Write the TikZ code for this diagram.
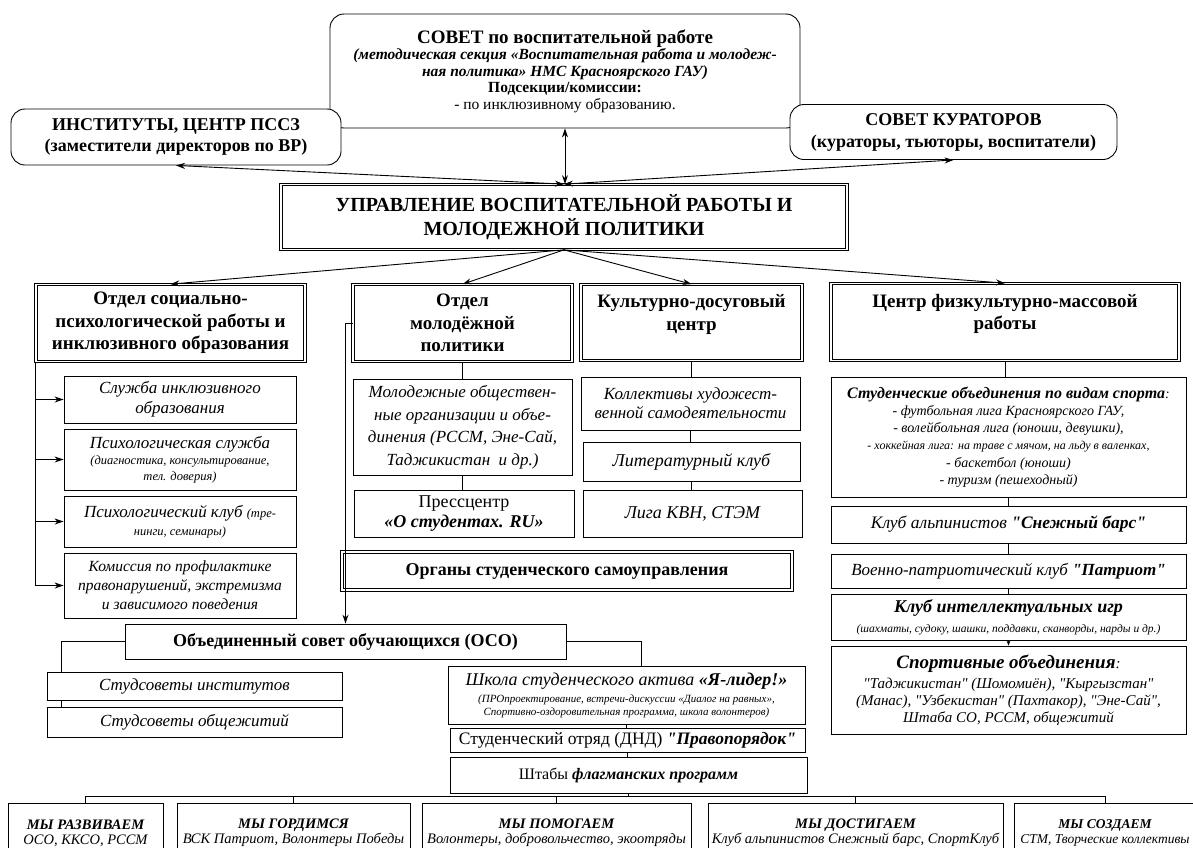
\documentclass[tikz,border=0pt]{standalone}
\usepackage{fontspec}
\setmainfont{Liberation Serif}[Ligatures=TeXOff]
\usetikzlibrary{arrows.meta,calc}
\newcommand{\setfs}[2]{\fontsize{#1}{#2}\selectfont}

\begin{document}
\begin{tikzpicture}[x=1pt, y=-1pt, >={Stealth[length=9pt,width=6pt]}, line width=0.9pt,
  box/.style={draw, fill=white, align=center, inner sep=1pt},
  rbox/.style={box, rounded corners=14pt},
  dbox/.style={box, double, double distance=1.8pt, line width=0.7pt},
  wh/.style 2 args={minimum width=#1pt, minimum height=#2pt}]
\useasboundingbox (0,0) rectangle (1193,847);

% top level
\node[rbox, wh={470}{114}, font={\setfs{15.5}{16.5}}] (sovet) at (565,71)
  {{\setfs{19}{19}\bfseries СОВЕТ по воспитательной работе}\\
   {\bfseries\itshape (методическая секция «Воспитательная работа и молодеж-}\\
   {\bfseries\itshape ная политика» НМС Красноярского ГАУ)}\\
   {\bfseries Подсекции/комиссии:}\\
   - по инклюзивному образованию.};
\node[rbox, wh={330}{56}, font={\setfs{18}{21}\bfseries}] (inst) at (176,137)
  {ИНСТИТУТЫ, ЦЕНТР ПССЗ\\(заместители директоров по ВР)};
\node[rbox, wh={327}{55}, font={\setfs{18}{22}\bfseries}] (kurator) at (953.5,132)
  {СОВЕТ КУРАТОРОВ\\(кураторы, тьюторы, воспитатели)};
\node[dbox, wh={566}{65}, font={\setfs{20}{24}\bfseries}] (upr) at (564,217)
  {УПРАВЛЕНИЕ ВОСПИТАТЕЛЬНОЙ РАБОТЫ И\\МОЛОДЕЖНОЙ ПОЛИТИКИ};

% departments
\node[dbox, wh={269}{77}, font={\setfs{19}{22.5}\bfseries}] (otdsoc) at (170.5,323)
  {Отдел социально-\\психологической работы и\\инклюзивного образования};
\node[dbox, wh={219}{77}, font={\setfs{19}{22.5}\bfseries}] (otdmol) at (462.5,323)
  {Отдел\\молодёжной\\политики};
\node[dbox, wh={221}{76}, font={\setfs{19}{22.5}\bfseries}] (kult) at (691.5,322.5)
  {Культурно-досуговый\\центр\\[-2pt]};
\node[dbox, wh={348}{77}, font={\setfs{19}{22.5}\bfseries}] (centr) at (1005,322)
  {Центр физкультурно-массовой\\работы\\[-2pt]};

% left column
\node[box, wh={232}{47}, font={\setfs{17}{20}\itshape}] (sl1) at (180,399.5)
  {Служба инклюзивного\\образования};
\node[box, wh={232}{61}, font={\setfs{17}{16}\itshape}] (sl2) at (180,459.5)
  {Психологическая служба\\{\setfs{12.5}{14}(диагностика, консультирование,}\\{\setfs{12.5}{14}тел. доверия)}};
\node[box, wh={232}{51}, font={\setfs{17}{18}\itshape}] (sl3) at (180,521.5)
  {Психологический клуб {\setfs{12.5}{14}(тре-}\\{\setfs{12.5}{14}нинги, семинары)}};
\node[box, wh={232}{65}, font={\setfs{15.5}{19}\itshape}] (sl4) at (180,585.5)
  {Комиссия по профилактике\\правонарушений, экстремизма\\и зависимого поведения};

% youth policy column
\node[box, wh={219}{96}, font={\setfs{17}{22.5}\itshape}] (molorg) at (462.5,427)
  {Молодежные обществен-\\ные организации и объе-\\динения (РССМ, Эне-Сай,\\Таджикистан~ и др.)};
\node[box, wh={220}{47}, font={\setfs{18}{20}}] (press) at (464,513.5)
  {Прессцентр\\{\bfseries\itshape «О студентах. RU»}};

% culture column
\node[box, wh={219}{53}, font={\setfs{17}{19}\itshape}] (koll) at (690.5,403.5)
  {Коллективы художест-\\венной самодеятельности};
\node[box, wh={217}{39}, font={\setfs{18}{20}\itshape}] (lit) at (691.5,461.5)
  {Литературный клуб};
\node[box, wh={219}{47}, font={\setfs{18}{20}\itshape}] (kvn) at (692.5,513.5)
  {Лига КВН, СТЭМ};

% sport column
\node[box, wh={355}{120}, font={\setfs{14}{17.2}\itshape}] (stud) at (1008.5,437)
  {{\setfs{16}{17}\bfseries Студенческие объединения по видам спорта}:\\
   - футбольная лига Красноярского ГАУ,\\
   - волейбольная лига (юноши, девушки),\\
   {\setfs{12}{14}- хоккейная лига: на траве с мячом, на льду в валенках,}\\
   - баскетбол (юноши)\\
   - туризм (пешеходный)};
\node[box, wh={355}{37}, font={\setfs{17.5}{20}\itshape}] (alp) at (1008.5,524.5)
  {Клуб альпинистов {\bfseries"Снежный барс"}};
\node[box, wh={355}{34}, font={\setfs{17}{20}\itshape}] (voen) at (1008.5,571)
  {Военно-патриотический клуб {\bfseries"Патриот"}};
\node[box, wh={355}{46}, font={\setfs{18}{20}\itshape}] (intel) at (1008.5,617)
  {{\bfseries Клуб интеллектуальных игр}\\{\setfs{11.5}{13}(шахматы, судоку, шашки, поддавки, сканворды, нарды и др.)}};
\node[box, wh={355}{88}, font={\setfs{15}{17}\itshape}] (sport) at (1008.5,690)
  {{\setfs{19}{20}\bfseries Спортивные объединения}:\\[3pt]
   "Таджикистан" (Шомомиён), "Кыргызстан"\\
   (Манас), "Узбекистан" (Пахтакор), "Эне-Сай",\\
   Штаба СО, РССМ, общежитий};

% student self-government
\node[dbox, wh={450}{38}, font={\setfs{18}{20}\bfseries}] (organy) at (567,571)
  {Органы студенческого самоуправления};
\node[box, wh={441}{35}, font={\setfs{18}{20}\bfseries}] (oso) at (345.5,641.5)
  {Объединенный совет обучающихся (ОСО)};
\node[box, wh={295}{28}, font={\setfs{17}{20}\itshape}] (sovinst) at (194.5,686)
  {Студсоветы институтов};
\node[box, wh={295}{30}, font={\setfs{17}{20}\itshape}] (sovobsh) at (194.5,722)
  {Студсоветы общежитий};
\node[box, wh={357}{58}, font={\setfs{11}{13}\itshape}] (shkola) at (626.5,695)
  {{\setfs{18}{18}Школа студенческого актива {\bfseries«Я-лидер!»}}\\[4pt]
   (ПРОпроектирование, встречи-дискуссии «Диалог на равных»,\\
   Спортивно-оздоровительная программа, школа волонтеров)};
\node[box, wh={355}{24}, font={\setfs{17.5}{18}}] (pravo) at (627.5,740)
  {Студенческий отряд (ДНД) {\bfseries\itshape"Правопорядок"}};
\node[box, wh={357}{36}, font={\setfs{16}{18}}] (shtab) at (628.5,775)
  {Штабы {\bfseries\itshape флагманских программ}};

% flagship programmes
\node[box, wh={155}{60}, font={\setfs{14.5}{15}\itshape}] (my1) at (85.5,833)
  {{\bfseries МЫ РАЗВИВАЕМ}\\ОСО, ККСО, РССМ};
\node[box, wh={233}{60}, font={\setfs{14.5}{15}\itshape}] (my2) at (293.5,833)
  {{\bfseries МЫ ГОРДИМСЯ}\\ВСК Патриот, Волонтеры Победы};
\node[box, wh={269}{60}, font={\setfs{14.5}{15}\itshape}] (my3) at (556.5,833)
  {{\bfseries МЫ ПОМОГАЕМ}\\Волонтеры, добровольчество, экоотряды};
\node[box, wh={295}{60}, font={\setfs{14.5}{15}\itshape}] (my4) at (855.5,833)
  {{\bfseries МЫ ДОСТИГАЕМ}\\Клуб альпинистов Снежный барс, СпортКлуб};
\node[box, wh={182}{60}, font={\setfs{13.5}{15}\itshape}] (my5) at (1105,833)
  {{\bfseries МЫ СОЗДАЕМ}\\СТМ, Творческие коллективы};

% connectors, top
\draw[<->] (sovet.south) -- (sovet.south |- upr.north);
\draw[<->] (upr.north) -- (inst.south);
\draw[<->] (upr.north) -- (kurator.south);
\foreach \n in {otdsoc,otdmol,kult,centr}
  \draw[->] (upr.south) -- (\n.north);

% left spine
\draw (otdsoc.south west) -- (otdsoc.south west |- sl4.west);
\foreach \n in {sl1,sl2,sl3,sl4}
  \draw[->] (otdsoc.south west |- \n.west) -- (\n.west);

% columns
\draw (otdmol.south) -- (molorg.north);
\draw (molorg.south) -- (molorg.south |- press.north);
\draw (kult.south) -- (kult.south |- koll.north);
\draw (koll.south) -- (koll.south |- lit.north);
\draw (lit.south) -- (lit.south |- kvn.north);
\draw (centr.south) -- (centr.south |- stud.north);
\draw (stud.south) -- (alp.north);
\draw (alp.south) -- (voen.north);
\draw (voen.south) -- (intel.north);
\draw[-{Stealth[length=5pt,width=4pt]}] (intel.south) -- (sport.north);

% self-government
\draw[->] (otdmol.west) -| (oso.north);
\draw (oso.west) -| ($(sovinst.north west)+(15,0)$);
\draw ($(sovinst.south west)+(15,0)$) -- ($(sovobsh.north west)+(15,0)$);
\draw (oso.east) -| ($(shkola.north)+(15,0)$);
\draw (shkola.south) -- (shkola.south |- pravo.north);
\draw (pravo.south) -- (pravo.south |- shtab.north);

% bus to flagship programmes
\coordinate (bus) at (0,796);
\draw (my1.north |- bus) -- (my5.north |- bus);
\draw (shtab.south) -- (shtab.south |- bus);
\foreach \n in {my1,my2,my3,my4,my5}
  \draw (\n.north |- bus) -- (\n.north);
\end{tikzpicture}
\end{document}
